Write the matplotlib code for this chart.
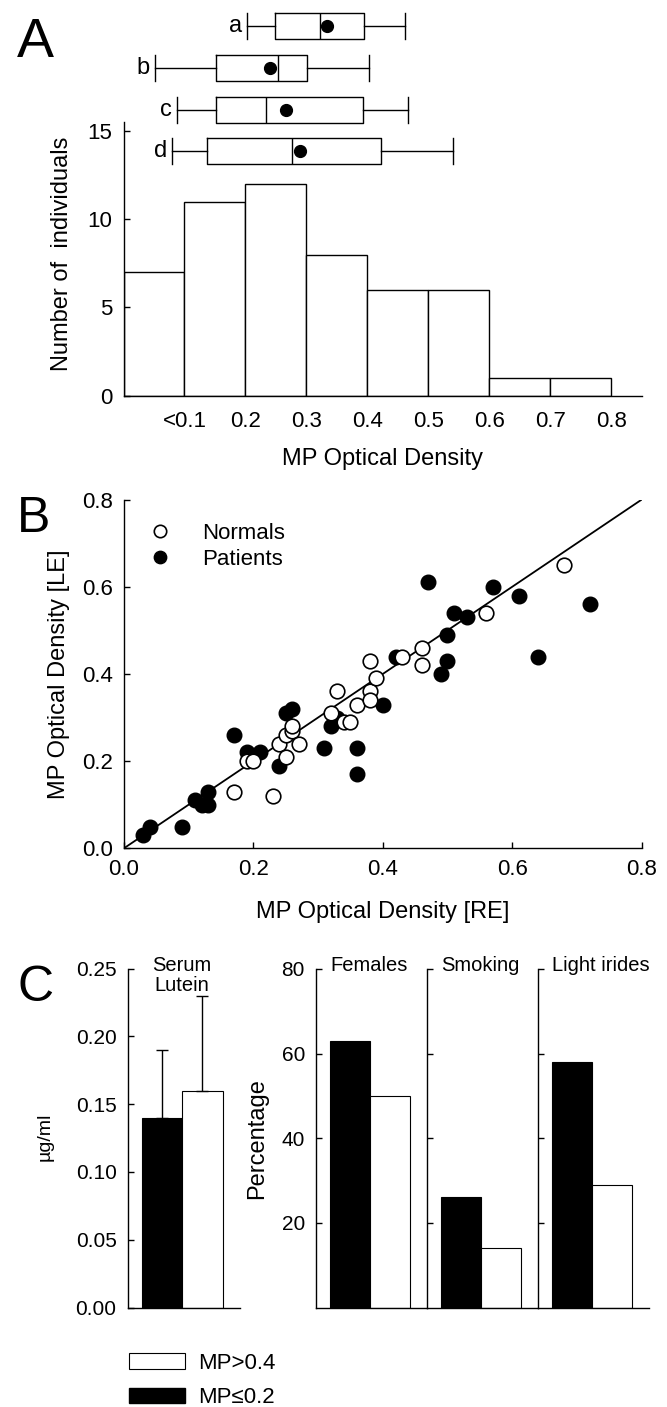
import matplotlib
matplotlib.use('Agg')
import matplotlib.pyplot as plt
from matplotlib.patches import Patch

plt.rcParams['font.family'] = ['Liberation Sans', 'DejaVu Sans']

W, H = 667, 1407

### data

# A: histogram of MP optical density
hist_edges = [0.0, 0.1, 0.2, 0.3, 0.4, 0.5, 0.6, 0.7]
hist_counts = [7, 11, 12, 8, 6, 6, 1, 1]
hist_ticks = [0.1, 0.2, 0.3, 0.4, 0.5, 0.6, 0.7, 0.8]
hist_ticklabels = ['<0.1', '0.2', '0.3', '0.4', '0.5', '0.6', '0.7', '0.8']

# A: box plots a-d
box_labels = ['a', 'b', 'c', 'd']
box_whislo = [0.202, 0.051, 0.088, 0.079]
box_q1 = [0.249, 0.151, 0.151, 0.137]
box_med = [0.323, 0.253, 0.233, 0.277]
box_mean = [0.334, 0.240, 0.267, 0.289]
box_q3 = [0.394, 0.301, 0.392, 0.422]
box_whishi = [0.462, 0.402, 0.467, 0.540]

# B: right eye vs left eye
normals_re = [0.17, 0.19, 0.20, 0.23, 0.24, 0.25, 0.25, 0.26, 0.26, 0.27, 0.32, 0.33,
              0.34, 0.35, 0.36, 0.38, 0.38, 0.38, 0.39, 0.43, 0.46, 0.46, 0.56, 0.68]
normals_le = [0.13, 0.20, 0.20, 0.12, 0.24, 0.21, 0.26, 0.27, 0.28, 0.24, 0.31, 0.36,
              0.29, 0.29, 0.33, 0.36, 0.34, 0.43, 0.39, 0.44, 0.46, 0.42, 0.54, 0.65]
patients_re = [0.03, 0.04, 0.09, 0.11, 0.12, 0.13, 0.13, 0.17, 0.19, 0.21, 0.24, 0.25,
               0.26, 0.31, 0.32, 0.33, 0.36, 0.36, 0.40, 0.42, 0.47, 0.49, 0.50, 0.50,
               0.51, 0.53, 0.57, 0.61, 0.64, 0.72]
patients_le = [0.03, 0.05, 0.05, 0.11, 0.10, 0.13, 0.10, 0.26, 0.22, 0.22, 0.19, 0.31,
               0.32, 0.23, 0.28, 0.30, 0.23, 0.17, 0.33, 0.44, 0.61, 0.40, 0.43, 0.49,
               0.54, 0.53, 0.60, 0.58, 0.44, 0.56]
identity_x = [0.0, 0.8]
identity_y = [0.0, 0.8]

# C: MP<=0.2 (black) vs MP>0.4 (white)
lutein_mean = [0.14, 0.16]
lutein_err = [0.05, 0.07]
groups = ['Females', 'Smoking', 'Light irides']
pct_low = [63, 26, 58]
pct_high = [50, 14, 29]

#### --------

fig = plt.figure(figsize=(W / 100, H / 100), dpi=100)


def px_axes(left, top, right, bottom):
    return fig.add_axes([left / W, 1 - bottom / H, (right - left) / W, (bottom - top) / H])


def style(ax, size=16):
    ax.spines[['top', 'right']].set_visible(False)
    for s in ['left', 'bottom']:
        ax.spines[s].set_linewidth(1.0)
    ax.tick_params(direction='in', length=4.5, width=1.0, labelsize=size, pad=8)


bar_colors = ['black', 'white']

# --- A histogram
ax = px_axes(123.5, 122.2, 641.8, 395.7)
ax.bar(hist_edges, hist_counts, width=0.1, align='edge', facecolor='white',
       edgecolor='black', linewidth=1.0)
ax.set_xlim(0, 0.85)
ax.set_ylim(0, 15.5)
ax.set_yticks([0, 5, 10, 15])
ax.set_xticks(hist_ticks)
ax.set_xticklabels(hist_ticklabels)
style(ax)
ax.tick_params(axis='x', length=0, pad=11)
ax.set_ylabel('Number of  individuals', fontsize=17)
ax.yaxis.set_label_coords(-0.097, 0.52)
ax.set_xlabel('MP Optical Density', fontsize=17)
ax.xaxis.set_label_coords(0.5, -0.193)

# --- A box plots
bx = px_axes(123.5, 0, 641.8, 175)
bx.set_xlim(0, 0.85)
bx.set_ylim(175, 0)
bx.axis('off')
stats = []
for i in range(4):
    stats.append(dict(label=box_labels[i], whislo=box_whislo[i], q1=box_q1[i],
                      med=box_med[i], mean=box_mean[i], q3=box_q3[i],
                      whishi=box_whishi[i], fliers=[]))
box_y = [26.2, 67.8, 110.0, 151.2]
lp = dict(color='black', linewidth=1.0)
bx.bxp(stats, positions=box_y, widths=25.7, capwidths=25.7, orientation='horizontal',
       showmeans=True, showfliers=False, manage_ticks=False,
       boxprops=lp, whiskerprops=lp, capprops=lp, medianprops=lp,
       meanprops=dict(marker='o', markerfacecolor='black', markeredgecolor='black',
                      markersize=8.5))
for i in range(4):
    bx.text(box_whislo[i] - 0.008, box_y[i], box_labels[i], ha='right', va='center',
            fontsize=17)

# --- B scatter
ax = px_axes(123.9, 499.7, 641.5, 848.3)
ax.plot(identity_x, identity_y, color='black', linewidth=1.3, zorder=2)
ax.plot(patients_re, patients_le, 'o', color='black', markersize=10.5, label='Patients',
        clip_on=False, zorder=3)
ax.plot(normals_re, normals_le, 'o', markerfacecolor='white', markeredgecolor='black',
        markeredgewidth=1.2, markersize=10.5, label='Normals', clip_on=False, zorder=4)
ax.set_xlim(0, 0.8)
ax.set_ylim(0, 0.8)
ax.set_xticks([0.0, 0.2, 0.4, 0.6, 0.8])
ax.set_yticks([0.0, 0.2, 0.4, 0.6, 0.8])
ax.xaxis.set_major_formatter('{x:.1f}')
ax.yaxis.set_major_formatter('{x:.1f}')
style(ax)
h, l = ax.get_legend_handles_labels()
ax.legend(h[::-1], l[::-1], loc='upper left', bbox_to_anchor=(0.048, 0.933), frameon=False,
          fontsize=16, handlelength=1.0, handletextpad=1.38, labelspacing=0.2,
          borderpad=0, borderaxespad=0, markerscale=0.85)
ax.set_ylabel('MP Optical Density [LE]', fontsize=17)
ax.yaxis.set_label_coords(-0.104, 0.5)
ax.set_xlabel('MP Optical Density [RE]', fontsize=17)
ax.xaxis.set_label_coords(0.5, -0.150)

# --- C serum lutein
ax = px_axes(127.7, 968.5, 240.0, 1307.5)
ax.bar([0, 1], lutein_mean, width=1, color=bar_colors, edgecolor='black', linewidth=0.8)
ax.errorbar([0, 1], lutein_mean, yerr=[[0, 0], lutein_err], fmt='none', ecolor='black',
            elinewidth=1.0, capsize=4.3, capthick=1.0)
ax.set_xlim(-0.85, 1.93)
ax.set_ylim(0, 0.25)
ax.set_xticks([])
ax.set_yticks([0.0, 0.05, 0.10, 0.15, 0.20, 0.25])
ax.yaxis.set_major_formatter('{x:.2f}')
style(ax, 15)
ax.text(0.5, 0.2485, 'Serum', ha='center', va='baseline', fontsize=14.5)
ax.text(0.5, 0.2336, 'Lutein', ha='center', va='baseline', fontsize=14.5)
ax.set_ylabel('\u00b5g/ml', fontsize=14)
ax.yaxis.set_label_coords(-0.656, 0.504)

# --- C percentages
left = 316.0
for i, g in enumerate(groups):
    ax = px_axes(left, 969.0, left + 111.1, 1307.5)
    ax.bar([0, 1], [pct_low[i], pct_high[i]], width=1, color=bar_colors,
           edgecolor='black', linewidth=0.8)
    ax.set_xlim(-0.85, 1.93)
    ax.set_ylim(0, 80)
    ax.set_xticks([])
    ax.set_yticks([20, 40, 60, 80])
    style(ax, 15)
    if i > 0:
        ax.set_yticklabels([])
    else:
        ax.set_ylabel('Percentage', fontsize=17)
        ax.yaxis.set_label_coords(-0.432, 0.5)
    ax.text(0.125, 79.6, g, transform=ax.get_yaxis_transform(), ha='left',
            va='baseline', fontsize=14.5)
    left += 111.1

# legend of panel C
fig.legend(handles=[Patch(facecolor='white', edgecolor='black', linewidth=0.8, label='MP>0.4'),
                    Patch(facecolor='black', edgecolor='black', label='MP\u22640.2')],
           loc='upper left', bbox_to_anchor=(128.8 / W, 1 - 1352.7 / H), frameon=False,
           fontsize=16, handlelength=2.51, handleheight=0.68, handletextpad=0.61,
           labelspacing=0.6, borderpad=0, borderaxespad=0)

# panel letters
fig.text(17 / W, 1 - 57 / H, 'A', fontsize=40, va='baseline')
fig.text(17 / W, 1 - 532 / H, 'B', fontsize=36, va='baseline')
fig.text(17 / W, 1 - 1001 / H, 'C', fontsize=36, va='baseline')

fig.savefig('out.png', dpi=100)
